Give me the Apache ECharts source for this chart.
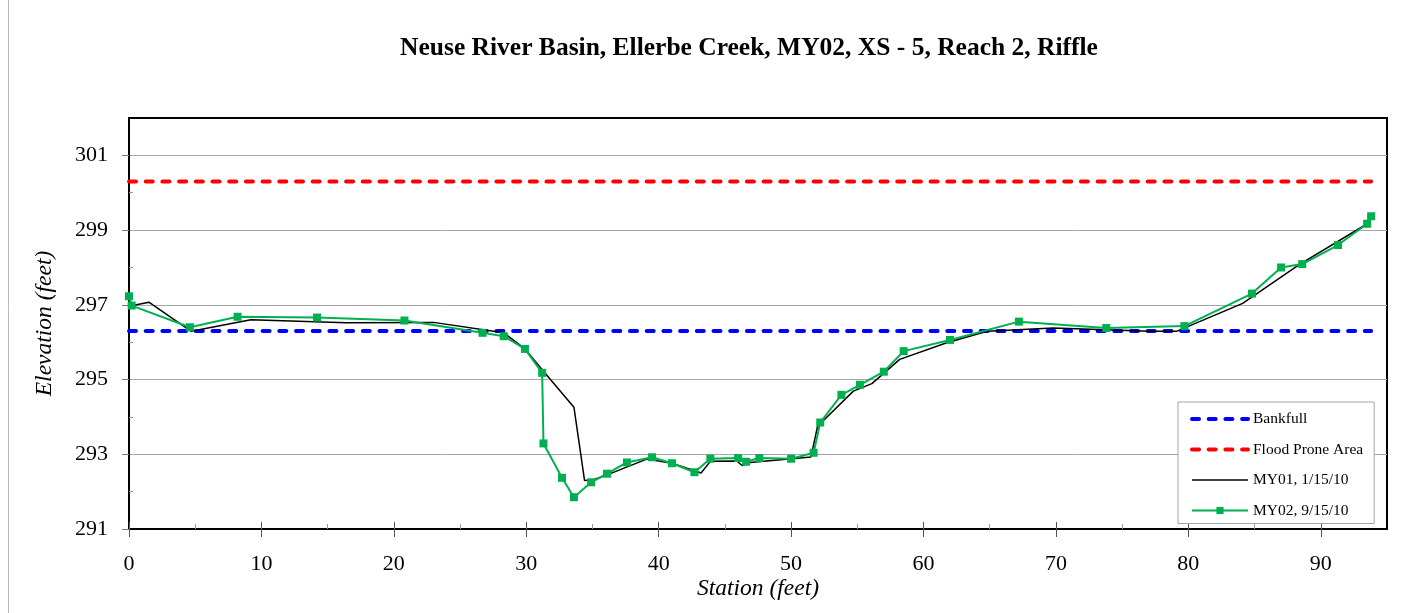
<!DOCTYPE html>
<html>
<head>
<meta charset="utf-8">
<script src="https://cdn.jsdelivr.net/npm/echarts@6/dist/echarts.min.js"></script>
<style>
  html, body { margin: 0; padding: 0; background: #fff; }
  #chart { width: 1425px; height: 613px; }
</style>
</head>
<body>
<div id="chart"></div>
<script>
// Cross-section survey, Ellerbe Creek XS-5 (riffle)
const chartTitle = 'Neuse River Basin, Ellerbe Creek, MY02, XS - 5, Reach 2, Riffle';
const xAxisTitle = 'Station (feet)';
const yAxisTitle = 'Elevation (feet)';

const stationTicks = [0, 10, 20, 30, 40, 50, 60, 70, 80, 90];
const stationMinorTicks = [5, 15, 25, 35, 45, 55, 65, 75, 85];
const elevationTicks = [291, 293, 295, 297, 299, 301];
const elevationMinorTicks = [292, 294, 296, 298, 300];

// Reference elevations
const bankfullElev = 296.3;
const floodProneElev = 300.3;
const referenceStations = [0, 93.8];

// MY01 survey, 1/15/10
const my01Station = [0, 1.5, 4.7, 9.2, 16.4, 23.0, 28.3, 29.9, 31.3, 33.6, 34.4, 35.1, 36.1, 39.1, 41.0,
  43.2, 43.9, 45.9, 46.3, 46.9, 51.5, 52.0, 54.7, 56.1, 58.2, 61.7, 64.8, 69.8, 77.1, 79.1, 84.1, 88.4, 93.7];
const my01Elev = [296.96, 297.07, 296.29, 296.60, 296.52, 296.53, 296.25, 295.82, 295.22, 294.26, 292.30, 292.32, 292.45, 292.87, 292.76,
  292.50, 292.81, 292.82, 292.70, 292.78, 292.93, 293.75, 294.69, 294.89, 295.54, 295.98, 296.29, 296.38, 296.29, 296.29, 297.04, 298.08, 299.21];

// MY02 survey, 9/15/10
const my02Station = [0, 0.2, 4.6, 8.2, 14.2, 20.8, 26.7, 28.3, 29.9, 31.2, 31.3, 32.7, 33.6, 34.9, 36.1, 37.6, 39.5, 41.0, 42.7, 43.9,
  46.0, 46.6, 47.6, 50.0, 51.7, 52.2, 53.8, 55.2, 57.0, 58.5, 62.0, 67.2, 73.8, 79.7, 84.8, 87.0, 88.6, 91.3, 93.5, 93.8];
const my02Elev = [297.23, 296.98, 296.40, 296.68, 296.66, 296.58, 296.25, 296.16, 295.82, 295.18, 293.29, 292.37, 291.85, 292.25, 292.48, 292.78, 292.92, 292.76, 292.52, 292.88,
  292.90, 292.80, 292.90, 292.88, 293.04, 293.85, 294.59, 294.86, 295.21, 295.76, 296.06, 296.55, 296.38, 296.43, 297.30, 298.00, 298.09, 298.60, 299.17, 299.37];

// The elevation axis runs 291..302 with ticks every 2 ft starting at 291;
// values are plotted relative to the axis floor so ticks line up with odd feet.
const ELEV_FLOOR = 291;
const ELEV_SPAN = 11;
const rel = v => +(v - ELEV_FLOOR).toFixed(4);
const pairs = (xs, ys) => xs.map((x, i) => [x, rel(ys[i])]);

const serif = 'Liberation Serif, Times New Roman, serif';
const refDash = [7, 9.7];

const chart = echarts.init(document.getElementById('chart'), null, { renderer: 'canvas' });

const baseX = { type: 'value', min: 0, max: 95, interval: 10, position: 'bottom', gridIndex: 0 };
const baseY = { type: 'value', min: 0, max: ELEV_SPAN, interval: 2, position: 'left', gridIndex: 0 };

chart.setOption({
  animation: false,
  backgroundColor: '#fff',
  title: {
    text: chartTitle,
    left: 749,
    textAlign: 'center',
    top: 35,
    padding: 0,
    textStyle: { fontFamily: serif, fontWeight: 'bold', fontSize: 25.5, color: '#000' }
  },
  graphic: [{
    type: 'line',
    shape: { x1: 8.5, y1: 0, x2: 8.5, y2: 613 },
    style: { stroke: '#b8b8b8', lineWidth: 1 },
    silent: true
  }],
  grid: {
    left: 129, right: 38, top: 118, bottom: 84,
    show: true, borderColor: '#000', borderWidth: 2, backgroundColor: '#fff'
  },
  legend: {
    orient: 'vertical',
    left: 1178, top: 402,
    itemWidth: 56, itemHeight: 9, itemGap: 14.5,
    padding: [9, 11, 5, 12],
    backgroundColor: '#fff',
    borderColor: '#a6a6a6', borderWidth: 1,
    selectedMode: false,
    textStyle: { fontFamily: serif, fontSize: 15.5, color: '#000' },
    data: [
      { name: 'Bankfull', itemStyle: { opacity: 0 }, lineStyle: { width: 4, type: refDash, cap: 'round' } },
      { name: 'Flood Prone Area', itemStyle: { opacity: 0 }, lineStyle: { width: 4, type: refDash, cap: 'round' } },
      { name: 'MY01, 1/15/10', itemStyle: { opacity: 0 }, lineStyle: { width: 1.5 } },
      { name: 'MY02, 9/15/10', lineStyle: { width: 2 } }
    ]
  },
  xAxis: [
    Object.assign({}, baseX, {
      name: xAxisTitle,
      nameLocation: 'middle',
      nameGap: 48,
      nameMoveOverlap: false,
      nameTextStyle: { fontFamily: serif, fontStyle: 'italic', fontSize: 23.5, color: '#000' },
      axisLine: { show: true, lineStyle: { color: '#000', width: 2 } },
      axisTick: { show: true, inside: false, length: 8, customValues: stationTicks, lineStyle: { color: '#555', width: 1 } },
      axisLabel: { customValues: stationTicks, margin: 24, fontFamily: serif, fontSize: 22, color: '#000' },
      splitLine: { show: false }
    }),
    Object.assign({}, baseX, {
      axisLine: { show: false },
      axisTick: { show: true, inside: true, length: 7, customValues: stationTicks, lineStyle: { color: '#555', width: 1 } },
      axisLabel: { show: false },
      splitLine: { show: false }
    }),
    Object.assign({}, baseX, {
      axisLine: { show: false },
      axisTick: { show: true, inside: true, length: 5, customValues: stationMinorTicks, lineStyle: { color: '#999', width: 1 } },
      axisLabel: { show: false },
      splitLine: { show: false }
    })
  ],
  yAxis: [
    Object.assign({}, baseY, {
      name: yAxisTitle,
      nameLocation: 'middle',
      nameGap: 73,
      nameTextStyle: { fontFamily: serif, fontStyle: 'italic', fontSize: 23.5, color: '#000' },
      axisLine: { show: true, lineStyle: { color: '#000', width: 2 } },
      axisTick: { show: true, inside: false, length: 7, customValues: elevationTicks.map(rel), lineStyle: { color: '#777', width: 1 } },
      axisLabel: {
        customValues: elevationTicks.map(rel),
        formatter: v => String(Math.round(v + ELEV_FLOOR)),
        margin: 21, fontFamily: serif, fontSize: 22, color: '#000'
      },
      splitLine: { show: true, lineStyle: { color: '#a6a6a6', width: 1 } }
    }),
    Object.assign({}, baseY, {
      axisLine: { show: false },
      axisTick: { show: true, inside: true, length: 4, customValues: elevationMinorTicks.map(rel), lineStyle: { color: '#999', width: 1 } },
      axisLabel: { show: false },
      splitLine: { show: false }
    })
  ],
  series: [
    {
      name: 'Bankfull', type: 'line', xAxisIndex: 0, yAxisIndex: 0,
      data: referenceStations.map(x => [x, rel(bankfullElev)]),
      symbol: 'none', silent: true,
      lineStyle: { color: '#0000ff', width: 4, type: refDash, cap: 'round' },
      itemStyle: { color: '#0000ff' }
    },
    {
      name: 'Flood Prone Area', type: 'line', xAxisIndex: 0, yAxisIndex: 0,
      data: referenceStations.map(x => [x, rel(floodProneElev)]),
      symbol: 'none', silent: true,
      lineStyle: { color: '#ff0000', width: 4, type: refDash, cap: 'round' },
      itemStyle: { color: '#ff0000' }
    },
    {
      name: 'MY01, 1/15/10', type: 'line', xAxisIndex: 0, yAxisIndex: 0,
      data: pairs(my01Station, my01Elev),
      symbol: 'none', silent: true,
      lineStyle: { color: '#000', width: 1.5 },
      itemStyle: { color: '#000' }
    },
    {
      name: 'MY02, 9/15/10', type: 'line', xAxisIndex: 0, yAxisIndex: 0,
      data: pairs(my02Station, my02Elev),
      symbol: 'rect', symbolSize: 8, showAllSymbol: true, silent: true,
      lineStyle: { color: '#00b050', width: 2 },
      itemStyle: { color: '#00b050' }
    }
  ]
});
</script>
</body>
</html>
